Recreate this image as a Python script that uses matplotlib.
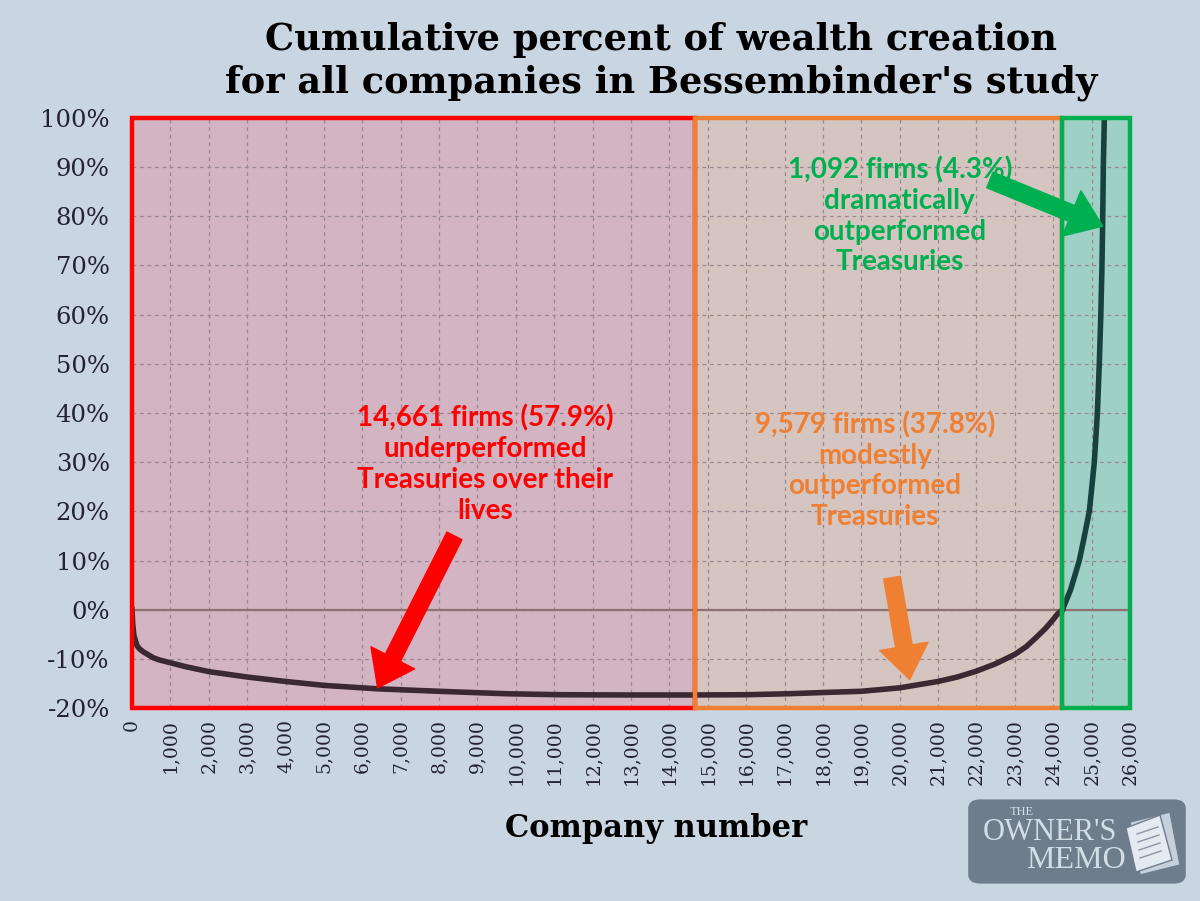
import numpy as np
import matplotlib.pyplot as plt
from matplotlib.patches import FancyBboxPatch, Polygon, Rectangle
from matplotlib.ticker import FuncFormatter

# cumulative share of wealth creation (%)
company = [0, 20, 50, 130, 200, 300, 560, 700, 1000, 1400, 2000, 3000, 4000, 5000,
           6400, 8000, 9750, 11200, 13000, 14600, 16000, 17100, 18200, 19000, 20000,
           21000, 21500, 22000, 22500, 23000, 23300, 23550, 23800, 24000, 24100,
           24240, 24450, 24680, 24800, 24940, 25000, 25070, 25110, 25150, 25200,
           25240, 25270, 25290, 25305, 25332]
pct = [0, -3.0, -5.3, -7.3, -8.0, -8.6, -9.8, -10.2, -10.8, -11.6, -12.6, -13.7,
       -14.6, -15.4, -16.1, -16.6, -17.1, -17.3, -17.35, -17.35, -17.3, -17.1, -16.8,
       -16.6, -15.9, -14.6, -13.7, -12.5, -11.0, -9.1, -7.5, -5.7, -3.8, -2.0, -1.0,
       0, 4.0, 10, 14.5, 20, 24.5, 30, 35, 40, 50, 60, 70, 80, 90, 100]

# groups of firms
n_under = 14661
n_modest = 9579
n_top = 1092
b1 = n_under
b2 = n_under + n_modest

bg = '#c9d6e2'
fig = plt.figure(figsize=(12, 9.01), dpi=100, facecolor=bg)
ax = fig.add_axes([132/1200, 1-708/901, (1130-132)/1200, (708-118)/901])
ax.set_facecolor(bg)
ax.set_xlim(0, 26000)
ax.set_ylim(-20, 100)

# coloured zones
ax.axvspan(0, b1, color='#d3b4c2', zorder=0)
ax.axvspan(b1, b2, color='#d4c5c1', zorder=0)
ax.axvspan(b2, 26000, color='#9fd0c5', zorder=0)

ax.set_xticks(np.arange(0, 26001, 1000))
ax.set_yticks(np.arange(-20, 101, 10))
ax.grid(True, color='#9a8890', linestyle=(0, (3, 3)), linewidth=0.9, zorder=1)
ax.axhline(0, color='#8e7272', linewidth=1.6, zorder=2)

x = np.array(company)
y = np.array(pct)
m1 = x <= b2
m2 = x >= b2
ax.plot(x[m1], y[m1], color='#3a2832', linewidth=4, zorder=3, solid_joinstyle='round')
ax.plot(x[m2], y[m2], color='#17413d', linewidth=4, zorder=3, solid_joinstyle='round')

# zone borders
for x0, x1, ec in [(0, b1, '#ff0000'), (b1, b2, '#ef7f32'), (b2, 26000, '#00b050')]:
    ax.add_patch(Rectangle((x0, -20), x1 - x0, 120, fill=False, edgecolor=ec,
                           linewidth=3.2, zorder=4, clip_on=False))

for s in ax.spines.values():
    s.set_visible(False)
ax.tick_params(length=0, labelsize=17.5, colors='#222233', pad=16)
ax.tick_params(axis='x', labelsize=13.5, pad=8, labelrotation=90)
for lab in ax.get_xticklabels() + ax.get_yticklabels():
    lab.set_family('DejaVu Serif')
ax.xaxis.set_major_formatter(FuncFormatter(lambda v, p: f'{int(v):,}'))
ax.yaxis.set_major_formatter(FuncFormatter(lambda v, p: f'{v:.0f}%'))

ax.set_xlabel('Company number', family='DejaVu Serif', fontweight='heavy',
              fontsize=22, labelpad=18)
ax.xaxis.set_label_coords(0.525, -0.178)

fig.text(0.551, 0.956, 'Cumulative percent of wealth creation', ha='center', va='center',
         family='DejaVu Serif', fontweight='heavy', fontsize=26.5)
fig.text(0.551, 0.908, "for all companies in Bessembinder's study", ha='center', va='center',
         family='DejaVu Serif', fontweight='heavy', fontsize=26.5)

# annotations
fnt = dict(family='Lato', fontweight='bold', fontsize=20, ha='center', va='center',
           linespacing=1.22, zorder=6)
ax.text(9200, 29.6, '14,661 firms (57.9%)\nunderperformed\nTreasuries over their\nlives',
        color='#ff0000', **fnt)
ax.text(19350, 28.3, '9,579 firms (37.8%)\nmodestly\noutperformed\nTreasuries',
        color='#ef7f32', **fnt)
ax.text(20000, 80.1, '1,092 firms (4.3%)\ndramatically\noutperformed\nTreasuries',
        color='#00b050', **fnt)

def arrow(tail, head, col):
    ax.annotate('', xy=head, xytext=tail, zorder=6,
                arrowprops=dict(arrowstyle='simple,head_length=1.1,head_width=1.6,tail_width=0.55',
                                color=col, mutation_scale=22, shrinkA=0, shrinkB=0))

arrow((8400, 15), (6400, -15.9), '#ff0000')
arrow((19800, 6.5), (20260, -14.2), '#ef7f32')
arrow((22350, 87.4), (25290, 78), '#00b050')

# logo
fig.patches.append(FancyBboxPatch((973/1200, 1-880/901), 208/1200, 77/901,
                                  boxstyle='round,pad=0.004,rounding_size=0.01',
                                  transform=fig.transFigure, facecolor='#6f7c8c',
                                  edgecolor='none'))
lc = '#d3dde8'
fig.text(1022/1200, 1-812/901, 'THE', color=lc, family='Liberation Serif',
         fontsize=9, ha='center', va='center')
fig.text(1050/1200, 1-832/901, "OWNER'S", color=lc, family='Liberation Serif',
         fontsize=22, ha='center', va='center')
fig.text(1076/1200, 1-861/901, 'MEMO', color=lc, family='Liberation Serif',
         fontsize=23, ha='center', va='center')
pts1 = [(1130, 822), (1170, 812), (1180, 865), (1140, 875)]
pts2 = [(1126, 828), (1160, 815), (1172, 860), (1136, 872)]
for pts, fc in [(pts1, '#c5d0dc'), (pts2, '#e4eaf1')]:
    fig.patches.append(Polygon([(px/1200, 1-py/901) for px, py in pts], closed=True,
                               transform=fig.transFigure, facecolor=fc,
                               edgecolor='#6f7c8c', linewidth=1))
for k in range(4):
    yy = 834 + k * 8
    fig.lines.append(plt.Line2D([(1137 + k)/1200, (1158 + k)/1200],
                                [1-yy/901, 1-(yy-7)/901], transform=fig.transFigure,
                                color='#8a96a6', linewidth=1))

fig.savefig('out.png', dpi=100, facecolor=bg)
